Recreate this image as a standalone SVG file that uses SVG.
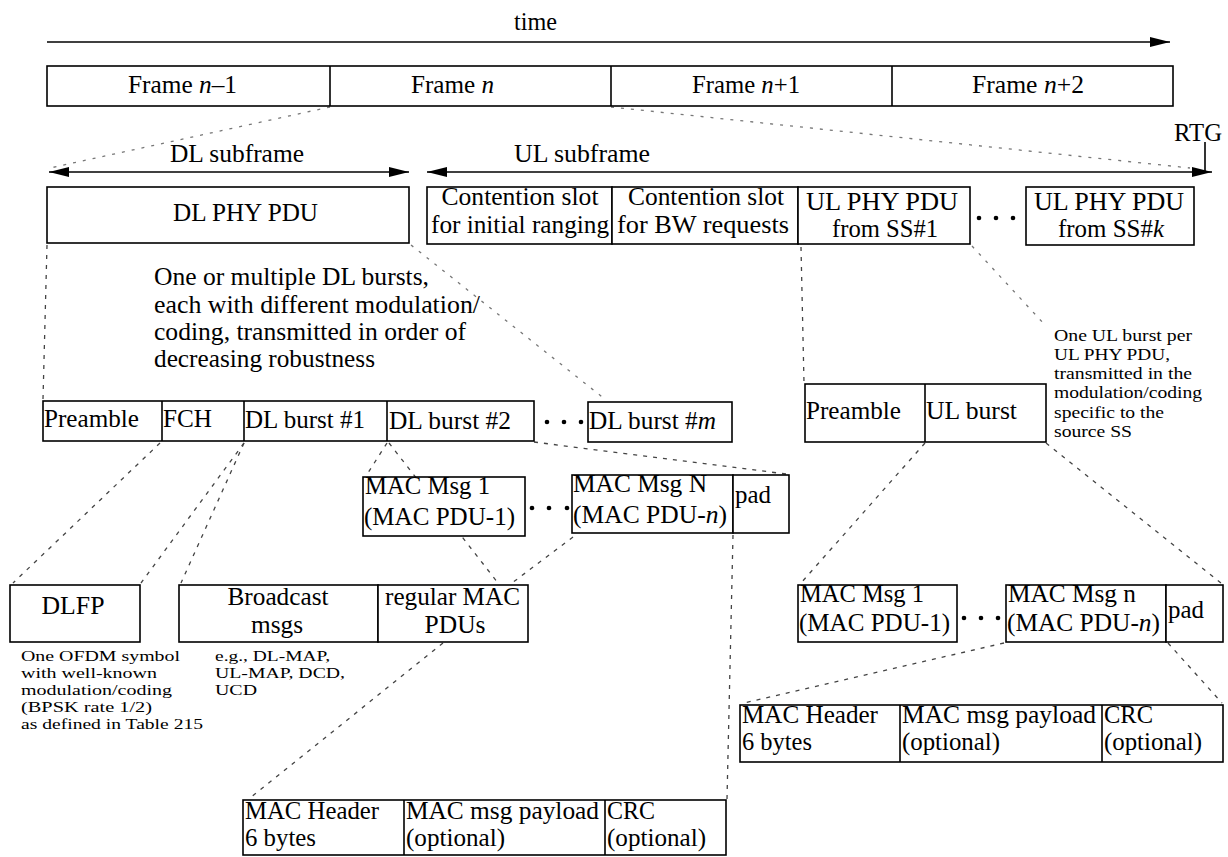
<svg xmlns="http://www.w3.org/2000/svg" width="1228" height="857" viewBox="0 0 1228 857" font-family="'Liberation Serif', 'DejaVu Serif', serif">
<style>
text{font-family:'Liberation Serif','DejaVu Serif',serif;font-size:25px;fill:#000}
.s{font-size:16px}
.n{font-size:15px}
.i{font-style:italic}
.b{fill:#fff;stroke:#000;stroke-width:1.6}
.l{stroke:#000;stroke-width:1.6;fill:none}
.d{fill:none;stroke:#444;stroke-width:1.3;stroke-dasharray:4 6}
.g{fill:none;stroke:#777;stroke-width:1.3;stroke-dasharray:3 7}
</style>
<defs>
<marker id="ah" viewBox="0 0 10 10" refX="10" refY="5" markerWidth="20" markerHeight="10" markerUnits="userSpaceOnUse" orient="auto-start-reverse" preserveAspectRatio="none">
<path d="M0,0 L10,5 L0,10 z" fill="#000"/>
</marker>
</defs>
<rect width="1228" height="857" fill="#fff"/>

<g id="connectors">
<line class="l" x1="47" y1="42" x2="1170" y2="42" marker-end="url(#ah)"/>
<line class="l" x1="49" y1="172" x2="409" y2="172" marker-start="url(#ah)" marker-end="url(#ah)"/>
<line class="l" x1="427" y1="172" x2="1212" y2="172" marker-start="url(#ah)" marker-end="url(#ah)"/>
<line class="l" x1="1205" y1="142" x2="1205" y2="172"/>
<line class="g" x1="330" y1="107" x2="50" y2="168"/>
<line class="g" x1="611" y1="107" x2="1190" y2="168"/>
<line class="d" x1="47" y1="245" x2="43" y2="399"/>
<line class="g" x1="411" y1="245" x2="606" y2="400"/>
<line class="d" x1="801" y1="247" x2="804" y2="383"/>
<line class="g" x1="972" y1="246" x2="1045" y2="325"/>
<line class="d" x1="160" y1="443" x2="13" y2="583"/>
<line class="d" x1="244" y1="443" x2="141" y2="583"/>
<line class="d" x1="244" y1="443" x2="181" y2="583"/>
<line class="d" x1="387" y1="443" x2="366" y2="476"/>
<line class="d" x1="389" y1="443" x2="498" y2="583"/>
<line class="d" x1="534" y1="442" x2="786" y2="474"/>
<line class="d" x1="573" y1="537" x2="512" y2="583"/>
<line class="d" x1="443" y1="643" x2="250" y2="798"/>
<line class="d" x1="733" y1="535" x2="727" y2="799"/>
<line class="d" x1="925" y1="443" x2="801" y2="583"/>
<line class="d" x1="1046" y1="443" x2="1221" y2="583"/>
<line class="d" x1="1004" y1="643" x2="744" y2="703"/>
<line class="d" x1="1168" y1="643" x2="1222" y2="703"/>
</g>

<g id="time-label">
<text x="514" y="30" textLength="43" lengthAdjust="spacingAndGlyphs">time</text>
</g>

<g id="frames">
<rect class="b" x="47" y="66" width="1126" height="40"/>
<line class="l" x1="330" y1="66" x2="330" y2="106"/>
<line class="l" x1="611" y1="66" x2="611" y2="106"/>
<line class="l" x1="892" y1="66" x2="892" y2="106"/>
<text x="128" y="93" textLength="109" lengthAdjust="spacingAndGlyphs">Frame <tspan class="i">n</tspan>–1</text>
<text x="411" y="93" textLength="83" lengthAdjust="spacingAndGlyphs">Frame <tspan class="i">n</tspan></text>
<text x="692" y="93" textLength="108" lengthAdjust="spacingAndGlyphs">Frame <tspan class="i">n</tspan>+1</text>
<text x="972" y="93" textLength="112" lengthAdjust="spacingAndGlyphs">Frame <tspan class="i">n</tspan>+2</text>
</g>

<g id="subframe-labels">
<text x="170" y="162" textLength="134" lengthAdjust="spacingAndGlyphs">DL subframe</text>
<text x="514" y="162" textLength="136" lengthAdjust="spacingAndGlyphs">UL subframe</text>
<text x="1174" y="141" textLength="48" lengthAdjust="spacingAndGlyphs">RTG</text>
</g>

<g id="dl-phy-pdu">
<rect class="b" x="47" y="187" width="362" height="56"/>
<text x="173" y="221" textLength="145" lengthAdjust="spacingAndGlyphs">DL PHY PDU</text>
</g>

<g id="contention-ranging">
<rect class="b" x="427" y="187" width="185" height="57"/>
<text x="520" y="205" text-anchor="middle" textLength="157" lengthAdjust="spacingAndGlyphs">Contention slot</text>
<text x="520" y="233" text-anchor="middle" textLength="178" lengthAdjust="spacingAndGlyphs">for initial ranging</text>
</g>

<g id="contention-bw">
<rect class="b" x="612" y="187" width="186" height="57"/>
<text x="706" y="205" text-anchor="middle" textLength="156" lengthAdjust="spacingAndGlyphs">Contention slot</text>
<text x="703" y="233" text-anchor="middle" textLength="172" lengthAdjust="spacingAndGlyphs">for BW requests</text>
</g>

<g id="ul-phy-pdu-1">
<rect class="b" x="798" y="187" width="172" height="57"/>
<text x="882" y="210" text-anchor="middle" textLength="152" lengthAdjust="spacingAndGlyphs">UL PHY PDU</text>
<text x="885" y="237" text-anchor="middle" textLength="106" lengthAdjust="spacingAndGlyphs">from SS#1</text>
</g>

<g id="ul-dots">
<circle cx="979" cy="218" r="2.3"/>
<circle cx="996" cy="218" r="2.3"/>
<circle cx="1013" cy="218" r="2.3"/>
</g>

<g id="ul-phy-pdu-k">
<rect class="b" x="1026" y="187" width="168" height="58"/>
<text x="1109" y="210" text-anchor="middle" textLength="150" lengthAdjust="spacingAndGlyphs">UL PHY PDU</text>
<text x="1111" y="237" text-anchor="middle" textLength="106" lengthAdjust="spacingAndGlyphs">from SS#<tspan class="i">k</tspan></text>
</g>

<g id="dl-burst-note">
<text x="154" y="285" textLength="275" lengthAdjust="spacingAndGlyphs">One or multiple DL bursts,</text>
<text x="154" y="313" textLength="326" lengthAdjust="spacingAndGlyphs">each with different modulation/</text>
<text x="154" y="340" textLength="312" lengthAdjust="spacingAndGlyphs">coding, transmitted in order of</text>
<text x="154" y="367" textLength="221" lengthAdjust="spacingAndGlyphs">decreasing robustness</text>
</g>

<g id="dl-bursts">
<rect class="b" x="43" y="401" width="491" height="40"/>
<line class="l" x1="162" y1="401" x2="162" y2="441"/>
<line class="l" x1="244" y1="401" x2="244" y2="441"/>
<line class="l" x1="387" y1="401" x2="387" y2="441" stroke-width="2.4"/>
<text x="44" y="427" textLength="95" lengthAdjust="spacingAndGlyphs">Preamble</text>
<text x="163" y="427" textLength="49" lengthAdjust="spacingAndGlyphs">FCH</text>
<text x="245" y="428" textLength="120" lengthAdjust="spacingAndGlyphs">DL burst #1</text>
<text x="389" y="429" textLength="122" lengthAdjust="spacingAndGlyphs">DL burst #2</text>
</g>

<g id="dl-dots">
<circle cx="547" cy="422" r="2.3"/>
<circle cx="564" cy="422" r="2.3"/>
<circle cx="581" cy="422" r="2.3"/>
</g>

<g id="dl-burst-m">
<rect class="b" x="588" y="402" width="144" height="40"/>
<text x="589" y="429" textLength="127" lengthAdjust="spacingAndGlyphs">DL burst #<tspan class="i">m</tspan></text>
</g>

<g id="ul-burst">
<rect class="b" x="805" y="384" width="241" height="58"/>
<line class="l" x1="925" y1="384" x2="925" y2="442"/>
<text x="806" y="419" textLength="95" lengthAdjust="spacingAndGlyphs">Preamble</text>
<text x="926" y="419" textLength="91" lengthAdjust="spacingAndGlyphs">UL burst</text>
</g>

<g id="ul-burst-note">
<text class="s" x="1054" y="341" textLength="138" lengthAdjust="spacingAndGlyphs">One UL burst per</text>
<text class="s" x="1054" y="360" textLength="116" lengthAdjust="spacingAndGlyphs">UL PHY PDU,</text>
<text class="s" x="1054" y="379" textLength="138" lengthAdjust="spacingAndGlyphs">transmitted in the</text>
<text class="s" x="1054" y="398" textLength="148" lengthAdjust="spacingAndGlyphs">modulation/coding</text>
<text class="s" x="1054" y="418" textLength="110" lengthAdjust="spacingAndGlyphs">specific to the</text>
<text class="s" x="1054" y="437" textLength="78" lengthAdjust="spacingAndGlyphs">source SS</text>
</g>

<g id="dl-mac-msg-1">
<rect class="b" x="363" y="477" width="162" height="59"/>
<text x="365" y="494" textLength="125" lengthAdjust="spacingAndGlyphs">MAC Msg 1</text>
<text x="364" y="525" textLength="151" lengthAdjust="spacingAndGlyphs">(MAC PDU-1)</text>
</g>

<g id="dl-mac-dots">
<circle cx="532" cy="508" r="2.3"/>
<circle cx="549" cy="508" r="2.3"/>
<circle cx="567" cy="508" r="2.3"/>
</g>

<g id="dl-mac-msg-n">
<rect class="b" x="572" y="475" width="161" height="58"/>
<rect class="b" x="733" y="475" width="56" height="58"/>
<text x="573" y="492" textLength="134" lengthAdjust="spacingAndGlyphs">MAC Msg N</text>
<text x="573" y="523" textLength="154" lengthAdjust="spacingAndGlyphs">(MAC PDU-<tspan class="i">n</tspan>)</text>
<text x="735" y="503" textLength="36" lengthAdjust="spacingAndGlyphs">pad</text>
</g>

<g id="dlfp">
<rect class="b" x="10" y="585" width="130" height="57"/>
<text x="73" y="614" text-anchor="middle" textLength="63" lengthAdjust="spacingAndGlyphs">DLFP</text>
</g>

<g id="dlfp-note">
<text class="n" x="21" y="661" textLength="159" lengthAdjust="spacingAndGlyphs">One OFDM symbol</text>
<text class="n" x="21" y="678" textLength="136" lengthAdjust="spacingAndGlyphs">with well-known</text>
<text class="n" x="21" y="695" textLength="151" lengthAdjust="spacingAndGlyphs">modulation/coding</text>
<text class="n" x="21" y="712" textLength="131" lengthAdjust="spacingAndGlyphs">(BPSK rate 1/2)</text>
<text class="n" x="21" y="729" textLength="182" lengthAdjust="spacingAndGlyphs">as defined in Table 215</text>
</g>

<g id="broadcast-msgs">
<rect class="b" x="179" y="585" width="199" height="57"/>
<rect class="b" x="378" y="585" width="150" height="57"/>
<text x="278" y="605" text-anchor="middle" textLength="101" lengthAdjust="spacingAndGlyphs">Broadcast</text>
<text x="277" y="633" text-anchor="middle" textLength="52" lengthAdjust="spacingAndGlyphs">msgs</text>
<text x="385" y="605" textLength="135" lengthAdjust="spacingAndGlyphs">regular MAC</text>
<text x="455" y="633" text-anchor="middle" textLength="61" lengthAdjust="spacingAndGlyphs">PDUs</text>
</g>

<g id="broadcast-note">
<text class="n" x="215" y="661" textLength="115" lengthAdjust="spacingAndGlyphs">e.g., DL-MAP,</text>
<text class="n" x="215" y="678" textLength="130" lengthAdjust="spacingAndGlyphs">UL-MAP, DCD,</text>
<text class="n" x="215" y="695" textLength="42" lengthAdjust="spacingAndGlyphs">UCD</text>
</g>

<g id="ul-mac-msg-1">
<rect class="b" x="798" y="585" width="159" height="57"/>
<text x="800" y="602" textLength="124" lengthAdjust="spacingAndGlyphs">MAC Msg 1</text>
<text x="799" y="631" textLength="151" lengthAdjust="spacingAndGlyphs">(MAC PDU-1)</text>
</g>

<g id="ul-mac-dots">
<circle cx="964" cy="618" r="2.3"/>
<circle cx="981" cy="618" r="2.3"/>
<circle cx="998" cy="618" r="2.3"/>
</g>

<g id="ul-mac-msg-n">
<rect class="b" x="1006" y="585" width="160" height="57"/>
<rect class="b" x="1166" y="585" width="57" height="57"/>
<text x="1008" y="602" textLength="128" lengthAdjust="spacingAndGlyphs">MAC Msg n</text>
<text x="1007" y="631" textLength="153" lengthAdjust="spacingAndGlyphs">(MAC PDU-<tspan class="i">n</tspan>)</text>
<text x="1168" y="618" textLength="36" lengthAdjust="spacingAndGlyphs">pad</text>
</g>

<g id="ul-mac-pdu">
<rect class="b" x="740" y="705" width="483" height="57"/>
<line class="l" x1="900" y1="705" x2="900" y2="762"/>
<line class="l" x1="1102" y1="705" x2="1102" y2="762"/>
<text x="742" y="723" textLength="136" lengthAdjust="spacingAndGlyphs">MAC Header</text>
<text x="742" y="750" textLength="70" lengthAdjust="spacingAndGlyphs">6 bytes</text>
<text x="902" y="723" textLength="194" lengthAdjust="spacingAndGlyphs">MAC msg payload</text>
<text x="902" y="750" textLength="98" lengthAdjust="spacingAndGlyphs">(optional)</text>
<text x="1104" y="723" textLength="49" lengthAdjust="spacingAndGlyphs">CRC</text>
<text x="1104" y="750" textLength="98" lengthAdjust="spacingAndGlyphs">(optional)</text>
</g>

<g id="dl-mac-pdu">
<rect class="b" x="243" y="800" width="483" height="55"/>
<line class="l" x1="404" y1="800" x2="404" y2="855"/>
<line class="l" x1="605" y1="800" x2="605" y2="855"/>
<text x="245" y="819" textLength="134" lengthAdjust="spacingAndGlyphs">MAC Header</text>
<text x="245" y="846" textLength="71" lengthAdjust="spacingAndGlyphs">6 bytes</text>
<text x="406" y="819" textLength="193" lengthAdjust="spacingAndGlyphs">MAC msg payload</text>
<text x="406" y="846" textLength="99" lengthAdjust="spacingAndGlyphs">(optional)</text>
<text x="607" y="819" textLength="48" lengthAdjust="spacingAndGlyphs">CRC</text>
<text x="607" y="846" textLength="99" lengthAdjust="spacingAndGlyphs">(optional)</text>
</g>
</svg>
